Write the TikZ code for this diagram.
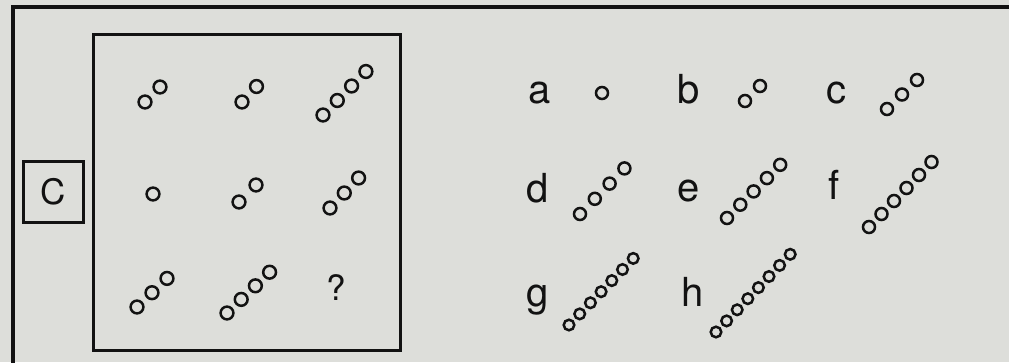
\documentclass[tikz,border=0pt]{standalone}
\usepackage{fontspec}
\setmainfont{TeX Gyre Heros}
\usepackage{tikz}
\usetikzlibrary{positioning}
\definecolor{paper}{RGB}{221,222,218}
\definecolor{ink}{RGB}{18,18,18}
% a diagonal row of small rings: x, y, count, dx, dy, radius
\newcommand{\ringrow}[6]{%
  \foreach \k in {1,...,#3}
    \draw[ring] ({#1+(\k-1)*#4},{#2-(\k-1)*#5}) circle[radius=#6];}

\begin{document}
\begin{tikzpicture}[
  x=1pt, y=-1pt,
  frame/.style={draw=ink, line width=3.4pt},
  box/.style={draw=ink, line width=3pt},
  ring/.style={draw=ink, line width=2.5pt},
  letter/.style={inner sep=0pt, anchor=base, text=ink, font=\fontsize{40}{40}\selectfont},
  glyph/.style={inner sep=0pt, anchor=base, text=ink, font=\fontsize{35}{35}\selectfont}
]
\useasboundingbox (0,0) rectangle (1009,362);
\fill[paper] (0,0) rectangle (1009,362);
\clip (0,0) rectangle (1009,362);

% Page frame (runs off the right and bottom edges)
\draw[frame] (13,380) -- (13,7) -- (1030,7);

% Set label
\draw[box] (23,161) rectangle (83,222);
\node[glyph] (setC) at (53,204) {C};

% Matrix
\draw[box] (93,34) rectangle (400,350);
% row 1
\ringrow{145}{102}{2}{15}{15}{6.4pt}
\ringrow{242}{102}{2}{14.5}{15.5}{6.4pt}
\ringrow{323}{115}{4}{14.3}{14.5}{6.4pt}
% row 2
\ringrow{153}{194}{1}{0}{0}{6.4pt}
\ringrow{239}{202}{2}{17}{17}{6.4pt}
\ringrow{330}{208}{3}{14.3}{15}{6.4pt}
% row 3
\ringrow{137}{307}{3}{15}{14.3}{6.4pt}
\ringrow{227}{313}{4}{14.2}{13.6}{6.4pt}
\node[glyph] (missing) at (336,300) {?};

% Answer choices
\node[letter] (a) at (540,103) {a};
\node[letter] (b) at (689,103) {b};
\node[letter] (c) at (836,103) {c};
\node[letter] (d) at (538,202) {d};
\node[letter] (e) at (689,201) {e};
\node[letter] (f) at (834,199) {f};
\node[letter] (g) at (538,306) {g};
\node[letter] (h) at (693,306) {h};

\ringrow{602}{93}{1}{0}{0}{6pt}
\ringrow{745}{101}{2}{15}{15}{6pt}
\ringrow{887}{109}{3}{15}{14.5}{6pt}
\ringrow{580}{214}{4}{14.8}{15.2}{6pt}
\ringrow{727}{218}{5}{13.3}{13.3}{6pt}
\ringrow{869}{227}{6}{12.5}{13}{6pt}
\ringrow{569}{325}{7}{10.7}{11.1}{5.3pt}
\ringrow{716}{332}{8}{10.6}{11.1}{5.3pt}

\end{tikzpicture}
\end{document}
